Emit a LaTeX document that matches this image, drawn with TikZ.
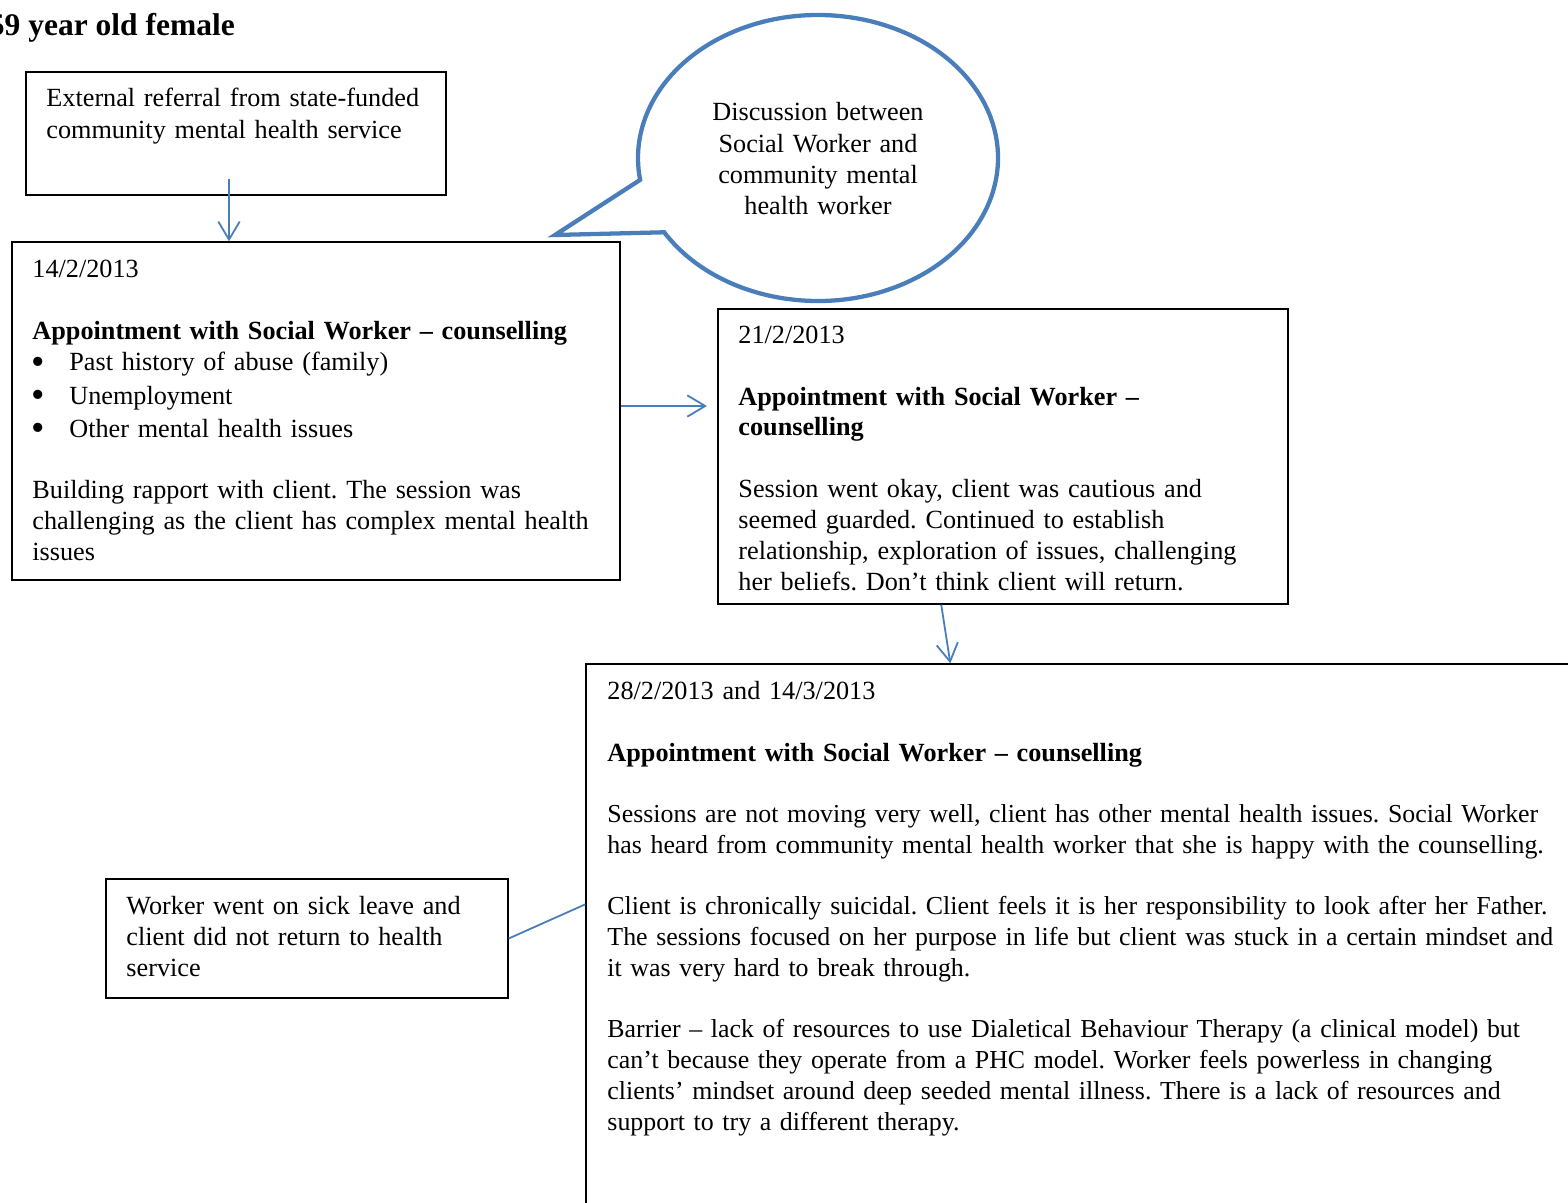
\documentclass[tikz,border=0pt]{standalone}
\usepackage{fontspec}
\setmainfont{Liberation Serif}
\frenchspacing
\usetikzlibrary{arrows.meta,fit,calc}
\definecolor{linkblue}{RGB}{74,126,187}
\newcommand{\bodysize}{\fontsize{11.65}{13.8}\selectfont}
\newcommand{\widesize}{\fontsize{11.5}{13.8}\selectfont}
\newcommand{\listmark}{\makebox[16.4pt][l]{\hspace{-0.6pt}\raisebox{-1.4pt}{\fontsize{17}{13.8}\selectfont\textbullet}}}
\begin{document}
\begin{tikzpicture}[x=0.4444pt,y=0.4444pt,
  box/.style={draw=black,line width=0.6pt,inner sep=0pt,rectangle},
  txt/.style={anchor=base west,inner sep=0pt,align=left,text width=480pt,
    font=\bodysize},
  bold/.style={txt,font=\bodysize\bfseries},
  link/.style={draw=linkblue,line width=0.8pt},
  arrowlink/.style={link,-{Straight Barb[length=8pt,width=9.5pt]}},
  bubble/.style={draw=linkblue,line width=1.9pt,line join=miter},
]
\useasboundingbox (0,0) rectangle (1568,-1203);
\clip (0,0) rectangle (1568,-1203);

% heading
\node[anchor=base west,inner sep=0pt,font=\fontsize{14}{16}\selectfont\bfseries]
  (title) at (-11.5,-36) {59 year old female};

% boxes
\node[box,fit={(26,-72) (446,-195)}] (boxA) {};
\node[box,fit={(12,-242) (620,-580)}] (boxB) {};
\node[box,fit={(718,-309) (1288,-604)}] (boxC) {};
\node[box,fit={(586,-664) (1620,-1260)}] (boxD) {};
\node[box,fit={(106,-879) (508,-998)}] (boxE) {};

% referral
\node[txt] (tA) at (46,-107) {External referral from state-funded\\community mental health service};

% first appointment
\node[txt] (tB1) at (32,-277) {14/2/2013};
\node[bold] (tB2) at (32,-339) {Appointment with Social Worker – counselling};
\node[txt,font=\fontsize{11.65}{14.7}\selectfont] (tB3) at (32,-371)
  {\listmark Past history of abuse (family)\\
   \listmark Unemployment\\
   \listmark Other mental health issues};
\node[txt] (tB4) at (32,-498) {Building rapport with client. The session was\\challenging as the client has complex mental health\\issues};

% second appointment
\node[txt] (tC1) at (738,-343) {21/2/2013};
\node[bold,font=\fontsize{11.65}{13.4}\selectfont\bfseries] (tC2) at (738,-405) {Appointment with Social Worker –\\counselling};
\node[txt] (tC3) at (738,-497) {Session went okay, client was cautious and\\seemed guarded. Continued to establish\\relationship, exploration of issues, challenging\\her beliefs. Don’t think client will return.};

% later appointments
\node[txt] (tD1) at (607,-699) {28/2/2013 and 14/3/2013};
\node[bold] (tD2) at (607,-761) {Appointment with Social Worker – counselling};
\node[txt,font=\widesize] (tD3) at (607,-822) {Sessions are not moving very well, client has other mental health issues. Social Worker\\has heard from community mental health worker that she is happy with the counselling.};
\node[txt,font=\widesize] (tD4) at (607,-914) {Client is chronically suicidal. Client feels it is her responsibility to look after her Father.\\The sessions focused on her purpose in life but client was stuck in a certain mindset and\\it was very hard to break through.};
\node[txt,font=\widesize] (tD5) at (607,-1037) {Barrier – lack of resources to use Dialetical Behaviour Therapy (a clinical model) but\\can’t because they operate from a PHC model. Worker feels powerless in changing\\clients’ mindset around deep seeded mental illness. There is a lack of resources and\\support to try a different therapy.};

% outcome
\node[txt] (tE) at (126,-914) {Worker went on sick leave and\\client did not return to health\\service};

% speech bubble
\coordinate (tip) at (555,-235);
\draw[bubble] (tip) -- ($(818,-158)+(-148.7:180 and 143)$)
  arc[start angle=-148.7,end angle=188.8,x radius=180,y radius=143] -- cycle;
\node[txt,anchor=base,align=center,text width=140pt] (bubbletext) at (818,-121)
  {Discussion between\\Social Worker and\\community mental\\health worker};

% connectors
\coordinate (a1) at (229,-179);
\draw[arrowlink] (a1) -- (a1 |- boxB.north);
\coordinate (a2) at (707,-406);
\draw[arrowlink] (boxB.east |- a2) -- (a2);
\draw[arrowlink] ([xshift=99.5pt]boxC.south west) -- ([xshift=162.2pt]boxD.north west);
\draw[link] (boxE.east) -- ([yshift=-107.1pt]boxD.north west);
\end{tikzpicture}
\end{document}
